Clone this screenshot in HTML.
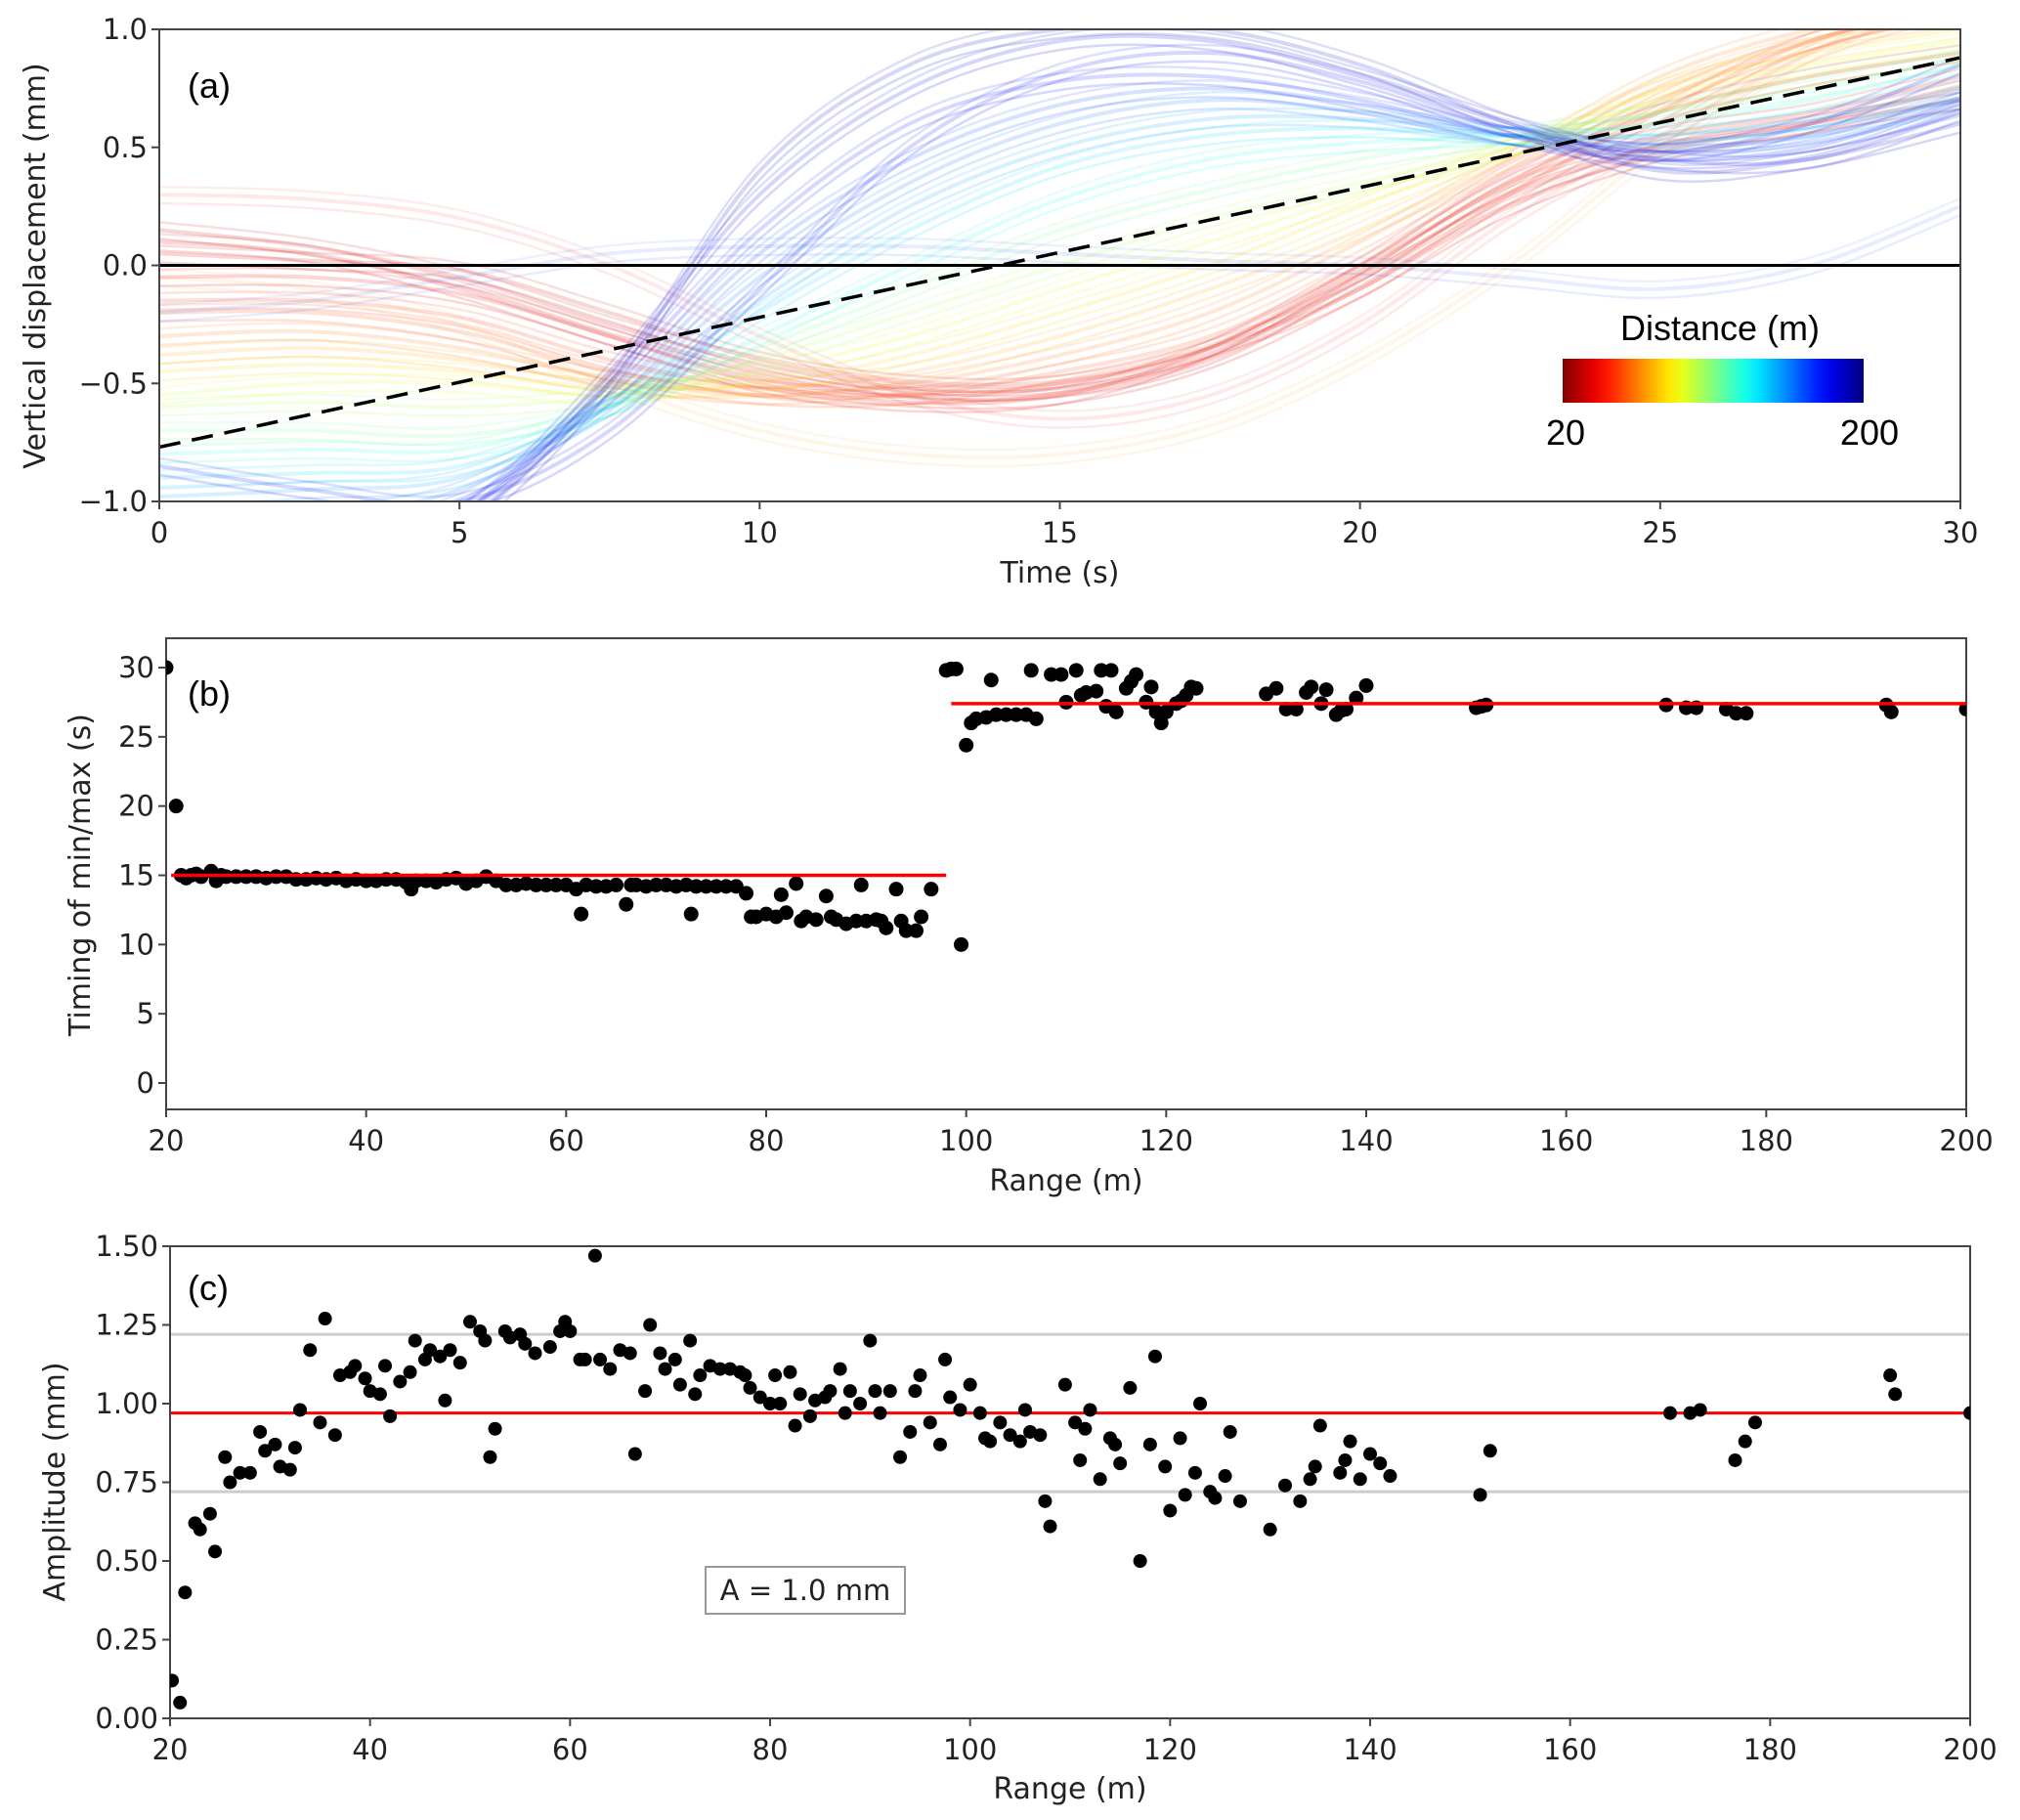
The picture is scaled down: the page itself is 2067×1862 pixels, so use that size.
<!DOCTYPE html>
<html><head><meta charset="utf-8"><style>
html,body{margin:0;padding:0;background:#fff}
svg{display:block}
.tk{font-family:"DejaVu Sans","Liberation Sans",sans-serif;font-size:29px;fill:#222}
.lab{font-family:"DejaVu Sans","Liberation Sans",sans-serif;font-size:30px;fill:#222}
.hl{font-family:"Liberation Sans",sans-serif;font-size:36px;fill:#000}
</style></head><body>
<svg id="fig" width="2067" height="1862" viewBox="0 0 2067 1862" xmlns="http://www.w3.org/2000/svg">
<defs>
<linearGradient id="jetr" x1="0" x2="1" y1="0" y2="0"></linearGradient>
<clipPath id="clipA"><rect x="163" y="30" width="1843" height="483"/></clipPath>
<clipPath id="clipB"><rect x="170" y="653" width="1842" height="482"/></clipPath>
<clipPath id="clipC"><rect x="174" y="1275" width="1842" height="483"/></clipPath>
</defs>
<g id="gA"></g>
<g id="gB"></g>
<g id="gC"></g>
</svg>
<script>
// ---------- Panel (a) data ----------
const curveTimes = [0,2.5,5,7.5,10,12.5,15,17.5,20,22.5,25,27.5,30];
const curveDist = [20,22,25,28,32,40,45,55,60,65,75,90,100,115,130,145,155,165,175,180,185,190,195,200];
const curveVals = [
[0.15,0.08,-0.05,-0.25,-0.42,-0.52,-0.52,-0.38,-0.05,0.3,0.5,0.6,0.7],
[0.05,0.02,-0.02,-0.2,-0.4,-0.5,-0.5,-0.35,-0.03,0.35,0.55,0.65,0.8],
[0.1,0.05,-0.1,-0.3,-0.48,-0.56,-0.55,-0.4,-0.1,0.25,0.48,0.6,0.75],
[-0.05,-0.05,-0.12,-0.3,-0.5,-0.58,-0.55,-0.35,0.0,0.4,0.65,0.8,0.9],
[0.3,0.28,0.2,0.0,-0.3,-0.55,-0.65,-0.55,-0.25,0.2,0.55,0.9,1.1],
[-0.15,-0.15,-0.22,-0.4,-0.52,-0.55,-0.5,-0.35,-0.1,0.3,0.65,0.95,1.1],
[-0.2,-0.2,-0.28,-0.45,-0.55,-0.55,-0.45,-0.3,0.0,0.35,0.7,0.95,1.1],
[-0.3,-0.28,-0.35,-0.48,-0.55,-0.5,-0.38,-0.2,0.1,0.45,0.8,1.0,1.1],
[-0.05,-0.1,-0.25,-0.5,-0.7,-0.8,-0.8,-0.68,-0.4,0.0,0.5,0.9,1.2],
[-0.38,-0.35,-0.4,-0.5,-0.52,-0.45,-0.3,-0.1,0.15,0.45,0.75,0.95,1.05],
[-0.45,-0.42,-0.45,-0.52,-0.5,-0.38,-0.2,0.0,0.25,0.5,0.75,0.9,1.0],
[-0.55,-0.5,-0.5,-0.55,-0.45,-0.3,-0.1,0.1,0.3,0.5,0.7,0.85,0.95],
[-0.6,-0.58,-0.6,-0.55,-0.4,-0.2,0.0,0.2,0.35,0.5,0.65,0.8,0.9],
[-0.7,-0.7,-0.72,-0.6,-0.35,-0.1,0.15,0.32,0.45,0.55,0.65,0.75,0.88],
[-0.8,-0.78,-0.78,-0.6,-0.3,0.0,0.28,0.45,0.52,0.55,0.6,0.7,0.85],
[-0.9,-0.88,-0.85,-0.6,-0.2,0.15,0.42,0.55,0.58,0.55,0.55,0.62,0.75],
[-0.98,-0.95,-0.9,-0.6,-0.15,0.25,0.5,0.62,0.62,0.55,0.52,0.58,0.7],
[-1.05,-1.05,-0.95,-0.58,-0.05,0.35,0.6,0.7,0.65,0.55,0.5,0.55,0.7],
[-1.1,-1.1,-1.0,-0.55,0.05,0.45,0.68,0.75,0.68,0.55,0.48,0.52,0.68],
[-0.2,-0.15,-0.05,0.05,0.08,0.08,0.05,0.02,0.0,-0.05,-0.1,0.0,0.25],
[-1.15,-1.15,-1.05,-0.5,0.15,0.6,0.78,0.8,0.7,0.55,0.45,0.5,0.7],
[-0.85,-0.95,-1.0,-0.7,-0.1,0.5,0.82,0.9,0.78,0.58,0.48,0.6,0.85],
[-1.2,-1.2,-1.05,-0.45,0.3,0.75,0.95,0.95,0.8,0.6,0.45,0.45,0.65],
[-1.25,-1.25,-1.1,-0.5,0.4,0.85,1.0,1.0,0.85,0.6,0.4,0.45,0.6]
];
const trendStart = -0.77, trendEnd = 0.88;
const aXTicks = [0,5,10,15,20,25,30];
const aYTicks = [1.0,0.5,0.0,-0.5,-1.0];
const aYTickLabels = ["1.0","0.5","0.0","\u22120.5","\u22121.0"];

// ---------- Panel (b) data ----------
const bRange = [20,21,21.5,22,22.5,23,23.5,24.5,25,25.5,26,27,28,29,30,31,32,33,34,35,36,37,38,39,40,41,42,43,44,44.5,45,46,47,48,49,50,51,52,53,54,55,56,57,58,59,60,61,61.5,62,63,64,65,66,66.5,67,68,69,70,71,72,72.5,73,74,75,76,77,78,78.5,79,80,81,81.5,82,83,83.5,84,85,86,86.5,87,88,89,89.5,90,91,91.5,92,93,93.5,94,95,95.5,96.5,99.5,
98,98.5,99,100,100.5,101,102,102.5,103,104,105,106,106.5,107,108.5,109.5,110,111,111.5,112,113,113.5,114,114.5,115,116,116.5,117,118,118.5,119,119.5,120,121,121.5,122,122.5,123,130,131,132,133,134,134.5,135.5,136,137,137.5,138,139,140,151,151.5,152,170,172,173,176,177,178,192,192.5,200];
const bTiming = [30,20,15.0,14.8,15.0,15.1,14.9,15.3,14.6,15.0,14.9,14.9,14.9,14.9,14.8,14.9,14.9,14.7,14.7,14.8,14.7,14.8,14.6,14.7,14.6,14.6,14.7,14.7,14.5,14.0,14.6,14.6,14.5,14.7,14.8,14.4,14.6,14.9,14.6,14.3,14.3,14.4,14.3,14.3,14.3,14.3,14.0,12.2,14.3,14.2,14.2,14.3,12.9,14.3,14.3,14.2,14.3,14.3,14.2,14.3,12.2,14.2,14.2,14.2,14.2,14.2,13.7,12.0,12.0,12.2,12.0,13.6,12.3,14.4,11.7,12.0,11.8,13.5,12.0,11.8,11.5,11.7,14.3,11.7,11.8,11.7,11.2,14.0,11.7,11.0,11.0,12.0,14.0,10.0,
29.8,29.9,29.9,24.4,26.0,26.3,26.4,29.1,26.6,26.6,26.6,26.6,29.8,26.3,29.5,29.5,27.5,29.8,28.0,28.2,28.3,29.8,27.2,29.8,26.8,28.5,29.0,29.5,27.5,28.6,26.8,26.0,26.8,27.4,27.6,28.0,28.6,28.5,28.1,28.5,27.0,27.0,28.2,28.6,27.4,28.4,26.6,26.9,27.0,27.8,28.7,27.1,27.2,27.3,27.3,27.1,27.1,27.0,26.7,26.7,27.3,26.8,27.0];
const bFitLow = [20.5,98,15.0];
const bFitHigh = [98.5,200,27.4];
const bXTicks = [20,40,60,80,100,120,140,160,180,200];
const bYTicks = [0,5,10,15,20,25,30];

// ---------- Panel (c) data ----------
const cRange = [20.2,21,21.5,22.5,23,24,24.5,25.5,26,27,28,29,29.5,30.5,31,32,32.5,33,34,35,35.5,36.5,37,38,38.5,39.5,40,41,41.5,42,43,44,44.5,45.5,46,47,47.5,48,49,50,51,51.5,52,52.5,53.5,54,55,55.5,56.5,58,59,59.5,60,61,61.5,62.5,63,64,65,66,66.5,67.5,68,69,69.5,70.5,71,72,72.5,73,74,75,76,77,77.5,78,79,80,80.5,81,82,82.5,83,84,84.5,85.5,86,87,87.5,88,89,90,90.5,91,92,93,94,94.5,95,96,97,97.5,98,99,100,101,101.5,102,103,104,105,105.5,106,107,107.5,108,109.5,110.5,111,111.5,112,113,114,114.5,115,116,117,118,118.5,119.5,120,121,121.5,122.5,123,124,124.5,125.5,126,127,130,131.5,133,134,134.5,135,137,137.5,138,139,140,141,142,151,152,170,172,173,176.5,177.5,178.5,192,192.5,200];
const cAmp = [0.12,0.05,0.40,0.62,0.60,0.65,0.53,0.83,0.75,0.78,0.78,0.91,0.85,0.87,0.80,0.79,0.86,0.98,1.17,0.94,1.27,0.90,1.09,1.10,1.12,1.08,1.04,1.03,1.12,0.96,1.07,1.10,1.20,1.14,1.17,1.15,1.01,1.17,1.13,1.26,1.23,1.20,0.83,0.92,1.23,1.21,1.22,1.19,1.16,1.18,1.23,1.26,1.23,1.14,1.14,1.47,1.14,1.11,1.17,1.16,0.84,1.04,1.25,1.16,1.11,1.14,1.06,1.20,1.03,1.09,1.12,1.11,1.11,1.10,1.09,1.05,1.02,1.00,1.09,1.00,1.10,0.93,1.03,0.96,1.01,1.02,1.04,1.11,0.97,1.04,1.00,1.20,1.04,0.97,1.04,0.83,0.91,1.04,1.09,0.94,0.87,1.14,1.02,0.98,1.06,0.97,0.89,0.88,0.94,0.90,0.88,0.98,0.91,0.90,0.69,0.61,1.06,0.94,0.82,0.92,0.98,0.76,0.89,0.87,0.81,1.05,0.50,0.87,1.15,0.80,0.66,0.89,0.71,0.78,1.00,0.72,0.70,0.77,0.91,0.69,0.60,0.74,0.69,0.76,0.80,0.93,0.78,0.82,0.88,0.76,0.84,0.81,0.77,0.71,0.85,0.97,0.97,0.98,0.82,0.88,0.94,1.09,1.03,0.97];
const cMean = 0.97, cBandHigh = 1.22, cBandLow = 0.72;
const cXTicks = [20,40,60,80,100,120,140,160,180,200];
const cYTicks = [0,0.25,0.5,0.75,1.0,1.25,1.5];
const cYTickLabels = ["0.00","0.25","0.50","0.75","1.00","1.25","1.50"];

const NS = "http://www.w3.org/2000/svg";
function mk(tag, attrs, parent, text){
  const e = document.createElementNS(NS, tag);
  for (const k in attrs) e.setAttribute(k, attrs[k]);
  if (text !== undefined) e.textContent = text;
  parent.appendChild(e);
  return e;
}
function lin(d0,d1,r0,r1){ return v => r0 + (v-d0)/(d1-d0)*(r1-r0); }
function jet(v){
  const c = x => Math.max(0, Math.min(1, x));
  const r = c(1.5 - Math.abs(4*v - 3));
  const g = c(1.5 - Math.abs(4*v - 2));
  const b = c(1.5 - Math.abs(4*v - 1));
  return `rgb(${Math.round(r*255)},${Math.round(g*255)},${Math.round(b*255)})`;
}
function distColor(d){ return jet(0.93 - 0.86*(d-20)/180); }

function axes(g, L, R, T, B, xs, ys, xt, xtl, yt, ytl, name){
  const frame = mk('rect', {x:L, y:T, width:R-L, height:B-T, fill:'none', stroke:'#444', 'stroke-width':2}, g);
  
  
  xt.forEach((v,i)=>{
    const x = xs(v);
    const tl = mk('line', {x1:x, x2:x, y1:B, y2:B+8, stroke:'#444', 'stroke-width':2}, g);
    
    
    const t = mk('text', {x:x, y:B+42, 'text-anchor':'middle', class:'tk'}, g, xtl[i]);
    
    
  });
  yt.forEach((v,i)=>{
    const y = ys(v);
    const tl = mk('line', {x1:L-8, x2:L, y1:y, y2:y, stroke:'#444', 'stroke-width':2}, g);
    
    
    const t = mk('text', {x:L-12, y:y+10, 'text-anchor':'end', class:'tk'}, g, ytl[i]);
    
    
  });
}
function smoothPath(pts){
  let d = `M${pts[0][0]},${pts[0][1]}`;
  for (let i=0;i<pts.length-1;i++){
    const p0 = pts[i-1]||pts[i], p1 = pts[i], p2 = pts[i+1], p3 = pts[i+2]||p2;
    const c1 = [p1[0]+(p2[0]-p0[0])/6, p1[1]+(p2[1]-p0[1])/6];
    const c2 = [p2[0]-(p3[0]-p1[0])/6, p2[1]-(p3[1]-p1[1])/6];
    d += ` C${c1[0]},${c1[1]} ${c2[0]},${c2[1]} ${p2[0]},${p2[1]}`;
  }
  return d;
}

// ===== Panel A =====
(function(){
  const g = document.getElementById('gA');
  const L=163,R=2006,T=30,B=513;
  const xs = lin(0,30,L,R), ys = lin(-1,1,B,T);
  const cg = mk('g', {'clip-path':'url(#clipA)'}, g);
  
  
  curveVals.forEach((vals,i)=>{
    const pts = vals.map((v,j)=>[xs(curveTimes[j]), ys(v)]);
    const op = (curveDist[i]===180 || curveDist[i]===32 || curveDist[i]===60) ? 0.09 : 0.16;
    const p = mk('path', {d:smoothPath(pts), fill:'none', stroke:distColor(curveDist[i]), 'stroke-width':4, 'stroke-opacity':op}, cg);
    
    
    const p2 = mk('path', {d:smoothPath(pts.map(q=>[q[0],q[1]+9])), fill:'none', stroke:distColor(curveDist[i]), 'stroke-width':2.5, 'stroke-opacity':op}, cg);
    
    
    const p3 = mk('path', {d:smoothPath(pts.map(q=>[q[0],q[1]-8])), fill:'none', stroke:distColor(curveDist[i]), 'stroke-width':2.5, 'stroke-opacity':op*0.8}, cg);
    
    
  });
  const zl = mk('line', {x1:L, x2:R, y1:ys(0), y2:ys(0), stroke:'#000', 'stroke-width':3}, g);
  
  
  const tl = mk('line', {x1:xs(0), x2:xs(30), y1:ys(trendStart), y2:ys(trendEnd), stroke:'#000', 'stroke-width':3.5, 'stroke-dasharray':'22,12'}, cg);
  
  
  axes(g,L,R,T,B,xs,ys,aXTicks,aXTicks.map(String),aYTicks,aYTickLabels,'panel-a');
  const xl = mk('text', {x:(L+R)/2, y:596, 'text-anchor':'middle', class:'lab'}, g, 'Time (s)');
  
  
  const yl = mk('text', {x:0, y:0, 'text-anchor':'middle', class:'lab', transform:`translate(46,272) rotate(-90)`}, g, 'Vertical displacement (mm)');
  
  
  const pl = mk('text', {x:192, y:100, class:'hl'}, g, '(a)');
  
  
  const grad = document.getElementById('jetr');
  for (let i=0;i<=20;i++){ mk('stop', {offset:i/20, 'stop-color':jet(1-i/20)}, grad); }
  const cb = mk('rect', {x:1599, y:367, width:308, height:45, fill:'url(#jetr)'}, g);
  
  
  const ct = mk('text', {x:1760, y:348, 'text-anchor':'middle', class:'hl'}, g, 'Distance (m)');
  
  
  const c0 = mk('text', {x:1582, y:455, class:'hl'}, g, '20');
  
  
  const c1 = mk('text', {x:1943, y:455, 'text-anchor':'end', class:'hl'}, g, '200');
  
  
})();

// ===== Panel B =====
(function(){
  const g = document.getElementById('gB');
  const L=170,R=2012,T=653,B=1135;
  const xs = lin(20,200,L,R), ys = lin(0,30,1108,683);
  axes(g,L,R,T,B,xs,ys,bXTicks,bXTicks.map(String),bYTicks,bYTicks.map(String),'panel-b');
  const cg = mk('g', {'clip-path':'url(#clipB)'}, g);
  
  
  bRange.forEach((r,i)=>{
    const c = mk('circle', {cx:xs(r), cy:ys(bTiming[i]), r:7.5, fill:'#000'}, cg);
    
    
  });
  const f1 = mk('line', {x1:xs(bFitLow[0]), x2:xs(bFitLow[1]), y1:ys(bFitLow[2]), y2:ys(bFitLow[2]), stroke:'#f00', 'stroke-width':3.5}, g);
  
  
  const f2 = mk('line', {x1:xs(bFitHigh[0]), x2:xs(bFitHigh[1]), y1:ys(bFitHigh[2]), y2:ys(bFitHigh[2]), stroke:'#f00', 'stroke-width':3.5}, g);
  
  
  const xl = mk('text', {x:(L+R)/2, y:1218, 'text-anchor':'middle', class:'lab'}, g, 'Range (m)');
  
  
  const yl = mk('text', {x:0, y:0, 'text-anchor':'middle', class:'lab', transform:`translate(92,895) rotate(-90)`}, g, 'Timing of min/max (s)');
  
  
  const pl = mk('text', {x:192, y:722, class:'hl'}, g, '(b)');
  
  
})();

// ===== Panel C =====
(function(){
  const g = document.getElementById('gC');
  const L=174,R=2016,T=1275,B=1758;
  const xs = lin(20,200,L,R), ys = lin(0,1.5,B,T);
  [cBandHigh,cBandLow].forEach(v=>{
    const l = mk('line', {x1:L, x2:R, y1:ys(v), y2:ys(v), stroke:'#ccc', 'stroke-width':3}, g);
    
    
  });
  const ml = mk('line', {x1:L, x2:R, y1:ys(cMean), y2:ys(cMean), stroke:'#f00', 'stroke-width':3}, g);
  
  
  axes(g,L,R,T,B,xs,ys,cXTicks,cXTicks.map(String),cYTicks,cYTickLabels,'panel-c');
  const cg = mk('g', {'clip-path':'url(#clipC)'}, g);
  
  
  cRange.forEach((r,i)=>{
    const c = mk('circle', {cx:xs(r), cy:ys(cAmp[i]), r:7, fill:'#000'}, cg);
    
    
  });
  const lb = mk('rect', {x:722, y:1603, width:204, height:48, fill:'#fff', stroke:'#999', 'stroke-width':2}, g);
  
  
  const lt = mk('text', {x:824, y:1637, 'text-anchor':'middle', class:'tk'}, g, 'A = 1.0 mm');
  
  
  const xl = mk('text', {x:(L+R)/2, y:1840, 'text-anchor':'middle', class:'lab'}, g, 'Range (m)');
  
  
  const yl = mk('text', {x:0, y:0, 'text-anchor':'middle', class:'lab', transform:`translate(66,1516) rotate(-90)`}, g, 'Amplitude (mm)');
  
  
  const pl = mk('text', {x:192, y:1330, class:'hl'}, g, '(c)');
  
  
})();
</script>
</body></html>
